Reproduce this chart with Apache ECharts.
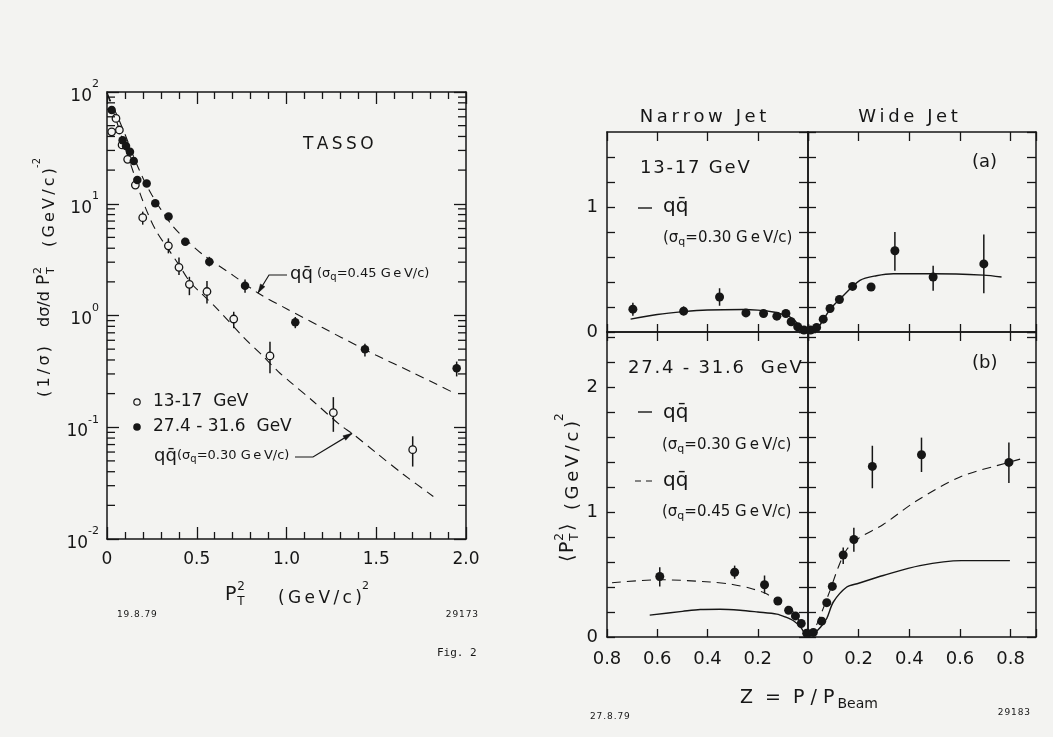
<!DOCTYPE html>
<html>
<head>
<meta charset="utf-8">
<title>TASSO – transverse momentum of jets</title>
<script src="https://cdn.jsdelivr.net/npm/echarts@6/dist/echarts.min.js"></script>
<style>
  html, body { margin: 0; padding: 0; background: #f3f3f1; }
  #chart { width: 1053px; height: 737px; }
</style>
</head>
<body>
<div id="chart"></div>
<script>
// ---------------- Left panel: (1/σ) dσ/dP_T² versus P_T² ----------------
const lowPt2    = [0.026, 0.05, 0.069, 0.084, 0.115, 0.158, 0.199, 0.342, 0.401, 0.459, 0.557, 0.706, 0.908, 1.261, 1.703];
const lowRate   = [44, 58, 45.7, 33.6, 25, 14.7, 7.5, 4.2, 2.7, 1.9, 1.64, 0.93, 0.435, 0.135, 0.063];
const lowErrLo  = [null, null, null, null, null, null, 6.5, 3.6, 2.3, 1.52, 1.28, 0.77, 0.304, 0.091, 0.0445];
const lowErrHi  = [null, null, null, null, null, null, 8.5, 4.9, 3.3, 2.22, 2.04, 1.08, 0.583, 0.186, 0.083];

const highPt2   = [0.026, 0.087, 0.106, 0.128, 0.149, 0.169, 0.221, 0.269, 0.343, 0.436, 0.570, 0.769, 1.049, 1.437, 1.948];
const highRate  = [69, 37, 32.9, 29.2, 24.1, 16.3, 15.2, 10.1, 7.7, 4.58, 3.03, 1.85, 0.87, 0.50, 0.337];
const highErrLo = [null, null, null, null, null, null, null, null, null, null, 2.75, 1.6, 0.77, 0.43, 0.285];
const highErrHi = [null, null, null, null, null, null, null, null, null, null, 3.35, 2.1, 0.97, 0.56, 0.387];

// q-qbar model curves, σq = 0.45 and 0.30 GeV/c
const curve045X = [0, 0.05, 0.1, 0.15, 0.2, 0.25, 0.3, 0.37, 0.45, 0.537, 0.7, 0.841, 1.0, 1.2, 1.41, 1.5, 1.7, 1.93];
const curve045Y = [98, 65, 42, 26, 17, 12, 8.9, 6.2, 4.6, 3.48, 2.3, 1.59, 1.15, 0.78, 0.52, 0.44, 0.31, 0.204];
const curve030X = [0, 0.05, 0.1, 0.15, 0.184, 0.23, 0.277, 0.351, 0.40, 0.462, 0.53, 0.611, 0.76, 0.871, 0.954, 1.02, 1.15, 1.298, 1.37, 1.5, 1.65, 1.818];
const curve030Y = [98, 57, 32, 18.5, 12.4, 8.0, 5.6, 3.73, 2.85, 2.0, 1.55, 1.16, 0.64, 0.43, 0.315, 0.255, 0.17, 0.105, 0.087, 0.059, 0.038, 0.024];

const logTickExponents = [-2, -1, 0, 1, 2];
const logMinorMantissas = [2, 3, 4, 5, 6, 7, 8, 9];
const ptTickLabels = ['0', '0.5', '1.0', '1.5', '2.0'];

// ---------------- Right panels: <P_T²> versus Z = P/P_beam ----------------
// (a) 13-17 GeV
const aNarrowZ  = [0.697, 0.495, 0.352, 0.247, 0.177, 0.124, 0.088, 0.067, 0.041, 0.016];
const aNarrowPt = [0.183, 0.167, 0.28, 0.153, 0.148, 0.127, 0.148, 0.082, 0.042, 0.016];
const aNarrowLo = [0.13, 0.135, 0.21, null, null, null, null, null, null, null];
const aNarrowHi = [0.235, 0.205, 0.35, null, null, null, null, null, null, null];
const aWideZ    = [0.01, 0.034, 0.06, 0.087, 0.124, 0.176, 0.249, 0.343, 0.494, 0.694];
const aWidePt   = [0.016, 0.037, 0.103, 0.188, 0.26, 0.365, 0.36, 0.65, 0.44, 0.545];
const aWideLo   = [null, null, null, null, null, null, null, 0.49, 0.33, 0.31];
const aWideHi   = [null, null, null, null, null, null, null, 0.80, 0.53, 0.78];

const aNarrowCurveZ = [0.706, 0.6, 0.495, 0.4, 0.257, 0.2, 0.138, 0.1, 0.071, 0.05, 0.032, 0.015, 0];
const aNarrowCurveY = [0.103, 0.14, 0.163, 0.176, 0.18, 0.175, 0.16, 0.14, 0.12, 0.085, 0.045, 0.012, 0];
const aWideCurveZ   = [0, 0.021, 0.047, 0.087, 0.139, 0.205, 0.27, 0.337, 0.494, 0.692, 0.764];
const aWideCurveY   = [0, 0.005, 0.056, 0.18, 0.29, 0.413, 0.45, 0.466, 0.466, 0.455, 0.44];

// (b) 27.4-31.6 GeV
const bNarrowZ  = [0.59, 0.292, 0.173, 0.12, 0.077, 0.05, 0.027, 0.005];
const bNarrowPt = [0.484, 0.518, 0.418, 0.288, 0.214, 0.169, 0.108, 0.03];
const bNarrowLo = [0.405, 0.466, 0.347, null, null, null, null, null];
const bNarrowHi = [0.558, 0.571, 0.492, null, null, null, null, null];
const bWideZ    = [0.021, 0.054, 0.074, 0.096, 0.139, 0.181, 0.254, 0.448, 0.793];
const bWidePt   = [0.037, 0.127, 0.275, 0.405, 0.656, 0.78, 1.365, 1.458, 1.397];
const bWideLo   = [null, null, null, null, 0.585, 0.683, 1.19, 1.32, 1.233];
const bWideHi   = [null, null, null, null, 0.717, 0.875, 1.53, 1.595, 1.556];

const bNarrowSolidZ = [0.63, 0.5, 0.429, 0.35, 0.27, 0.2, 0.124, 0.09, 0.058, 0.03, 0.01, 0];
const bNarrowSolidY = [0.175, 0.205, 0.22, 0.222, 0.214, 0.2, 0.183, 0.16, 0.13, 0.08, 0.02, 0];
const bNarrowDashZ  = [0.78, 0.587, 0.39, 0.3, 0.23, 0.17, 0.124, 0.071, 0.032, 0];
const bNarrowDashY  = [0.434, 0.458, 0.44, 0.42, 0.39, 0.35, 0.294, 0.228, 0.122, 0];
const bWideSolidZ   = [0, 0.02, 0.05, 0.074, 0.1, 0.153, 0.2, 0.297, 0.442, 0.606, 0.797];
const bWideSolidY   = [0, 0.02, 0.08, 0.148, 0.28, 0.4, 0.43, 0.492, 0.571, 0.611, 0.611];
const bWideDashZ    = [0, 0.02, 0.047, 0.087, 0.12, 0.153, 0.2, 0.297, 0.429, 0.6, 0.797, 0.85];
const bWideDashY    = [0, 0.04, 0.161, 0.373, 0.56, 0.7, 0.79, 0.9, 1.09, 1.28, 1.4, 1.43];

// ---------------- styling ----------------
const INK = '#161616';
const PAPER = '#f3f3f1';
const FONT = 'DejaVu Sans';
const QQBAR = 'qq\u0304';
const spread = (s, gap) => s.split('').join(gap || '\u2009');

// grid 0: left panel; grids 1-4: narrow (a), wide (a), narrow (b), wide (b)
const grids = [
  { left: 107, top: 92,  width: 359, height: 447 },
  { left: 607, top: 132, width: 201, height: 200 },
  { left: 808, top: 132, width: 228, height: 200 },
  { left: 607, top: 332, width: 201, height: 305 },
  { left: 808, top: 332, width: 228, height: 305 }
];
const xIdx = g => (g === 0 ? 0 : 2 + (g - 1) * 2);
const yIdx = xIdx;
const isNarrow = g => g === 1 || g === 3;

const lineStyle = { color: INK, width: 1.5 };
const tickStyle = { color: INK, width: 1.3 };

function leftX(pos) {
  return {
    type: 'value', gridIndex: 0, position: pos, min: 0, max: 2, interval: 0.5,
    axisLine: { show: true, onZero: false, lineStyle },
    axisTick: { show: true, inside: true, length: 12, lineStyle: tickStyle },
    minorTick: { show: true, splitNumber: 5, length: 7, lineStyle: tickStyle },
    splitLine: { show: false }, minorSplitLine: { show: false },
    axisLabel: {
      show: pos === 'bottom', margin: 12, color: INK, fontFamily: FONT, fontSize: 17,
      formatter: v => ptTickLabels[Math.round(v / 0.5)] || ''
    }
  };
}
function leftY(pos) {
  return {
    type: 'log', logBase: 10, gridIndex: 0, position: pos, min: 0.01, max: 100,
    axisLine: { show: true, onZero: false, lineStyle },
    axisTick: { show: true, inside: true, length: 12, lineStyle: tickStyle },
    splitLine: { show: false },
    axisLabel: {
      show: pos === 'left', margin: 8, color: INK,
      formatter: v => {
        const e = Math.round(Math.log10(v));
        return logTickExponents.indexOf(e) >= 0 ? '{m|10}{e|' + e + '}' : '';
      },
      rich: {
        m: { fontSize: 17, fontFamily: FONT, color: INK, lineHeight: 26, verticalAlign: 'bottom' },
        e: { fontSize: 11, fontFamily: FONT, color: INK, lineHeight: 11, verticalAlign: 'top' }
      }
    }
  };
}
function zAxis(g, pos) {
  const narrow = isNarrow(g);
  return {
    type: 'value', gridIndex: g, position: pos, min: 0, max: narrow ? 0.8 : 0.9, interval: 0.2,
    inverse: narrow,
    axisLine: { show: true, onZero: false, lineStyle },
    axisTick: { show: true, inside: true, length: pos === 'bottom' ? 8 : 9, lineStyle: tickStyle },
    splitLine: { show: false },
    axisLabel: {
      show: pos === 'bottom' && g >= 3, margin: 13, color: INK, fontFamily: FONT, fontSize: 18,
      showMinLabel: true, showMaxLabel: true,
      formatter: v => {
        if (v > 0.85) return '';
        if (Math.abs(v) < 1e-9) return narrow ? '' : '0';
        return v.toFixed(1);
      }
    }
  };
}
function ptAxis(g, pos) {
  const upper = g <= 2;
  return {
    type: 'value', gridIndex: g, position: pos, min: 0, max: upper ? 1.6 : 2.44, interval: 0.2,
    axisLine: { show: true, onZero: false, lineStyle },
    axisTick: { show: true, inside: true, length: pos === 'left' ? 8 : 9, lineStyle: tickStyle },
    splitLine: { show: false },
    axisLabel: {
      show: pos === 'left' && isNarrow(g), margin: 9, color: INK, fontFamily: FONT, fontSize: 18,
      showMinLabel: true, showMaxLabel: false,
      formatter: v => (Math.abs(v - Math.round(v)) < 1e-6 ? String(Math.round(v)) : '')
    }
  };
}

const xAxes = [leftX('bottom'), leftX('top')];
const yAxes = [leftY('left'), leftY('right')];
for (let g = 1; g <= 4; g++) {
  xAxes.push(zAxis(g, 'bottom'), zAxis(g, 'top'));
  yAxes.push(ptAxis(g, 'left'), ptAxis(g, 'right'));
}

// ---------------- series builders ----------------
const zip = (xs, ys) => xs.map((x, i) => [x, ys[i]]);

function curve(g, xs, ys, dashed) {
  return {
    type: 'line', xAxisIndex: xIdx(g), yAxisIndex: yIdx(g), data: zip(xs, ys),
    symbol: 'none', smooth: 0.3, silent: true, z: 2,
    lineStyle: { color: INK, width: dashed ? 1.1 : 1.4, type: dashed ? [9, 6] : 'solid', opacity: 1 }
  };
}
function renderErrorBar(params, api) {
  const a = api.coord([api.value(0), api.value(1)]);
  const b = api.coord([api.value(0), api.value(2)]);
  return { type: 'line', shape: { x1: a[0], y1: a[1], x2: b[0], y2: b[1] },
           style: { stroke: INK, lineWidth: 1.5 } };
}
function errorBars(g, xs, lo, hi) {
  const data = [];
  xs.forEach((x, i) => { if (lo[i] != null) data.push([x, lo[i], hi[i]]); });
  return {
    type: 'custom', xAxisIndex: xIdx(g), yAxisIndex: yIdx(g), data,
    encode: { x: 0, y: [1, 2] }, renderItem: renderErrorBar, silent: true, z: 3
  };
}
function dots(g, xs, ys, open, size) {
  return {
    type: 'scatter', xAxisIndex: xIdx(g), yAxisIndex: yIdx(g), data: zip(xs, ys),
    symbol: 'circle', symbolSize: size, silent: true, z: 4,
    itemStyle: open ? { color: PAPER, borderColor: INK, borderWidth: 1.3, opacity: 1 }
                    : { color: INK, borderColor: INK, borderWidth: 0, opacity: 1 }
  };
}

const series = [
  curve(0, curve045X, curve045Y, true),
  curve(0, curve030X, curve030Y, true),
  errorBars(0, lowPt2, lowErrLo, lowErrHi),
  errorBars(0, highPt2, highErrLo, highErrHi),
  dots(0, lowPt2, lowRate, true, 7.5),
  dots(0, highPt2, highRate, false, 8.5),

  curve(1, aNarrowCurveZ, aNarrowCurveY, false),
  curve(2, aWideCurveZ, aWideCurveY, false),
  errorBars(1, aNarrowZ, aNarrowLo, aNarrowHi),
  errorBars(2, aWideZ, aWideLo, aWideHi),
  dots(1, aNarrowZ, aNarrowPt, false, 9),
  dots(2, aWideZ, aWidePt, false, 9),

  curve(3, bNarrowSolidZ, bNarrowSolidY, false),
  curve(3, bNarrowDashZ, bNarrowDashY, true),
  curve(4, bWideSolidZ, bWideSolidY, false),
  curve(4, bWideDashZ, bWideDashY, true),
  errorBars(3, bNarrowZ, bNarrowLo, bNarrowHi),
  errorBars(4, bWideZ, bWideLo, bWideHi),
  dots(3, bNarrowZ, bNarrowPt, false, 9),
  dots(4, bWideZ, bWidePt, false, 9)
];

const chart = echarts.init(document.getElementById('chart'), null, { renderer: 'canvas' });
chart.setOption({
  animation: false,
  backgroundColor: PAPER,
  grid: grids,
  xAxis: xAxes,
  yAxis: yAxes,
  series
});

// ---------------- text, legends, minor ticks and annotation arrows ----------------
function T(x, y, text, size, extra) {
  return {
    type: 'text', x, y, silent: true, z: 100,
    style: Object.assign({ text, fill: INK, fontFamily: FONT, fontSize: size, align: 'left', verticalAlign: 'middle' }, extra || {})
  };
}
function sigmaText(x, y, val, size) {
  const s = Math.round(size * 0.75);
  return T(x, y, '{n|(σ}{s|q}{n|=' + val + ' G\u2009e\u2009V/c)}', size, {
    rich: {
      n: { fontSize: size, fontFamily: FONT, fill: INK, lineHeight: size + 2, verticalAlign: 'top' },
      s: { fontSize: s, fontFamily: FONT, fill: INK, lineHeight: s, padding: [Math.round(size * 0.45), 0, 0, 0], verticalAlign: 'bottom' }
    }
  });
}
function supText(x, y, base, sup, size, extra) {
  const u = Math.round(size * 0.65);
  return T(x, y, '{b|' + base + '}{u|' + sup + '}', size, Object.assign({
    rich: {
      b: { fontSize: size, fontFamily: FONT, fill: INK, lineHeight: Math.round(size * 1.6), verticalAlign: 'bottom' },
      u: { fontSize: u, fontFamily: FONT, fill: INK, lineHeight: u, verticalAlign: 'top' }
    }
  }, extra || {}));
}
// P with stacked superscript 2 and subscript T
function pt2(x, y, size) {
  const s = Math.round(size * 0.62);
  return [
    T(x, y, 'P', size),
    T(x + size * 0.64, y - size * 0.42, '2', s),
    T(x + size * 0.64, y + size * 0.38, 'T', s)
  ];
}
function logInterp(xs, ys, x) {
  for (let i = 0; i < xs.length - 1; i++) {
    if (x >= xs[i] && x <= xs[i + 1]) {
      const t = (x - xs[i]) / (xs[i + 1] - xs[i]);
      return Math.pow(10, Math.log10(ys[i]) + t * (Math.log10(ys[i + 1]) - Math.log10(ys[i])));
    }
  }
  return ys[ys.length - 1];
}
function arrow(points, tip) {
  const all = points.concat([tip]);
  const p = all[all.length - 2];
  const dx = tip[0] - p[0], dy = tip[1] - p[1];
  const len = Math.hypot(dx, dy);
  const ux = dx / len, uy = dy / len;
  const bx = tip[0] - ux * 9, by = tip[1] - uy * 9;
  return [
    { type: 'polyline', silent: true, z: 100, shape: { points: all }, style: { stroke: INK, lineWidth: 1.2, fill: null } },
    { type: 'polygon', silent: true, z: 100,
      shape: { points: [tip, [bx - uy * 2.6, by + ux * 2.6], [bx + uy * 2.6, by - ux * 2.6]] },
      style: { fill: INK, stroke: INK, lineWidth: 0.5 } }
  ];
}
const toLeftPx = v => chart.convertToPixel({ xAxisIndex: 0, yAxisIndex: 0 }, v);

const elements = [];

// minor decade ticks of the log axis, on both vertical edges
for (const e of logTickExponents.slice(0, -1)) {
  for (const m of logMinorMantissas) {
    const v = m * Math.pow(10, e);
    const l = toLeftPx([0, v]);
    const r = toLeftPx([2, v]);
    elements.push({ type: 'line', silent: true, z: 90, shape: { x1: l[0], y1: l[1], x2: l[0] + 8, y2: l[1] }, style: { stroke: INK, lineWidth: 1.3 } });
    elements.push({ type: 'line', silent: true, z: 90, shape: { x1: r[0] - 8, y1: r[1], x2: r[0], y2: r[1] }, style: { stroke: INK, lineWidth: 1.3 } });
  }
}

const tipUpper = toLeftPx([0.841, logInterp(curve045X, curve045Y, 0.841)]);
const tipLower = toLeftPx([1.365, logInterp(curve030X, curve030Y, 1.365)]);

// left panel labels
elements.push(T(303, 145, spread('TASSO'), 17));
elements.push({ type: 'circle', silent: true, z: 100, shape: { cx: 137, cy: 402, r: 3.2 }, style: { fill: PAPER, stroke: INK, lineWidth: 1.2 } });
elements.push(T(153, 402, '13-17  GeV', 17));
elements.push({ type: 'circle', silent: true, z: 100, shape: { cx: 137, cy: 427, r: 3.8 }, style: { fill: INK } });
elements.push(T(153, 427, '27.4 - 31.6  GeV', 17));
elements.push(T(290, 274, QQBAR, 18));
elements.push(sigmaText(317, 275, '0.45', 13));
elements.push(...arrow([[287, 275], [269, 275]], tipUpper));
elements.push(T(154, 456, QQBAR, 18));
elements.push(sigmaText(177, 457, '0.30', 13));
elements.push(...arrow([[295, 457], [313, 457]], tipLower));
elements.push(...pt2(225, 595, 19));
elements.push(supText(278, 594, spread('(GeV/c)'), '2', 17));
elements.push({
  type: 'group', x: 45, y: 397, rotation: Math.PI / 2, silent: true,
  children: [
    T(0, 0, spread('(1/σ)'), 16),
    T(70, 0, 'dσ/d', 16),
    ...pt2(112, 0, 17),
    supText(150, 0, spread('(GeV/c)'), '-2', 16)
  ]
});
elements.push(T(117, 615, spread('19.8.79', '\u200a'), 9));
elements.push(T(478, 615, spread('29173', '\u200a'), 9, { align: 'right' }));
elements.push(T(437, 653, 'Fig. 2', 11, { fontFamily: 'DejaVu Sans Mono' }));

// right panel labels
elements.push(T(703, 117, spread('Narrow Jet'), 18, { align: 'center' }));
elements.push(T(908, 117, spread('Wide Jet'), 18, { align: 'center' }));
elements.push(T(640, 168, spread('13-17 GeV', '\u200a'), 18));
elements.push(T(972, 162, '(a)', 18));
elements.push({ type: 'line', silent: true, z: 100, shape: { x1: 638, y1: 208, x2: 652, y2: 208 }, style: { stroke: INK, lineWidth: 1.4 } });
elements.push(T(663, 207, QQBAR, 20));
elements.push(sigmaText(663, 239, '0.30', 15));
elements.push(T(628, 368, spread('27.4 - 31.6  GeV', '\u200a'), 18));
elements.push(T(972, 363, '(b)', 18));
elements.push({ type: 'line', silent: true, z: 100, shape: { x1: 638, y1: 412, x2: 652, y2: 412 }, style: { stroke: INK, lineWidth: 1.4 } });
elements.push(T(663, 413, QQBAR, 20));
elements.push(sigmaText(662, 446, '0.30', 15));
elements.push({ type: 'line', silent: true, z: 100, shape: { x1: 635, y1: 481, x2: 654, y2: 481 }, style: { stroke: INK, lineWidth: 1.2, lineDash: [6, 5] } });
elements.push(T(663, 481, QQBAR, 20));
elements.push(sigmaText(662, 513, '0.45', 15));
elements.push(T(740, 700, '{b|Z  =  P / P}{s|Beam}', 19, {
  rich: {
    b: { fontSize: 19, fontFamily: FONT, fill: INK, lineHeight: 22, verticalAlign: 'top' },
    s: { fontSize: 14, fontFamily: FONT, fill: INK, lineHeight: 14, padding: [10, 0, 0, 3], verticalAlign: 'bottom' }
  }
}));
elements.push({
  type: 'group', x: 568, y: 562, rotation: Math.PI / 2, silent: true,
  children: [
    T(0, 0, '\u27e8', 19),
    ...pt2(9, 0, 19),
    T(31, 0, '\u27e9', 19),
    supText(52, 0, spread('(GeV/c)'), '2', 18)
  ]
});
elements.push(T(590, 717, spread('27.8.79', '\u200a'), 9));
elements.push(T(1030, 713, spread('29183', '\u200a'), 9, { align: 'right' }));

chart.setOption({ graphic: { elements } });
</script>
</body>
</html>
